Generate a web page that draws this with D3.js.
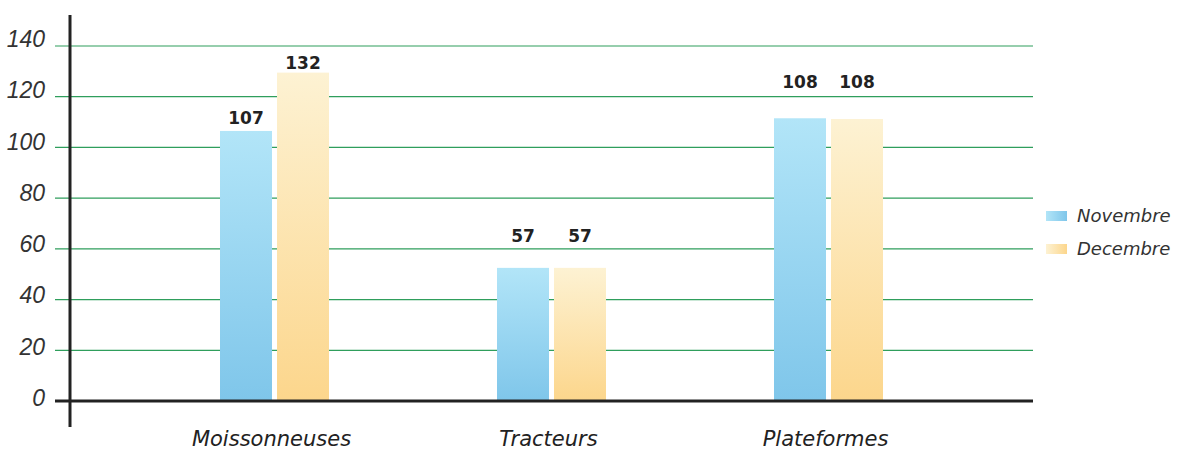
<!DOCTYPE html>
<html lang="fr">
  <head>
    <meta charset="utf-8">
    <title>Novembre / Decembre</title>
    <style>
      body { margin: 0; background: #fff; }
      svg text { font-family: "DejaVu Sans", "Lato", sans-serif; }
      .ytick { font-family: "Liberation Sans", Arial, sans-serif; font-style: italic; font-size: 23px; fill: #333; }
      .cat { font-style: italic; font-size: 21px; fill: #222; }
      .val { font-weight: bold; font-size: 17px; fill: #222; }
      .leg { font-style: italic; font-size: 18px; fill: #333; }
    </style>
    <script src="https://cdn.jsdelivr.net/npm/d3@7"></script>
  </head>
  <body>
    <svg id="chart" width="1177" height="450"></svg>
    <script>
      // data
      var categories = ["Moissonneuses", "Tracteurs", "Plateformes"];
      var series = ["Novembre", "Decembre"];
      var novembre = [106.5, 52.5, 111.5];
      var decembre = [129.5, 52.5, 111.2];
      // the printed labels do not quite match the bar heights
      var novLabels = ["107", "57", "108"];
      var decLabels = ["132", "57", "108"];
      // level (in axis units) where each printed label sits
      var novLabelAt = [109.2, 62.7, 123.4];
      var decLabelAt = [130.9, 62.7, 123.4];
      var yTicks = [0, 20, 40, 60, 80, 100, 120, 140];

      var svg = d3.select("#chart");
      var defs = svg.append("defs");

      function grad(id, top, bottom, horiz) {
        var g = defs.append("linearGradient").attr("id", id)
          .attr("x1", 0).attr("y1", 0)
          .attr("x2", horiz ? 1 : 0).attr("y2", horiz ? 0 : 1);
        g.append("stop").attr("offset", "0%").attr("stop-color", top);
        g.append("stop").attr("offset", "100%").attr("stop-color", bottom);
      }
      grad("gNov", "#b2e5f8", "#7fc6ea");
      grad("gDec", "#fdf2d3", "#fcd68c");
      grad("lNov", "#b2e5f8", "#7fc6ea", true);
      grad("lDec", "#fdf2d3", "#fcd68c", true);

      var y = d3.scaleLinear().domain([0, 140]).range([401, 46]);
      // tick labels drift a little from the grid in the original
      var yLab = d3.scaleLinear().domain([0, 140]).range([406, 47]);
      var x = d3.scaleBand().domain(categories).range([136, 967]);
      var barW = 52, gap = 5;

      // grid
      svg.append("g").selectAll("line").data(yTicks.filter(function(d) { return d > 0; }))
        .enter().append("line")
        .attr("x1", 55).attr("x2", 1033)
        .attr("y1", function(d) { return y(d); })
        .attr("y2", function(d) { return y(d); })
        .style("stroke", "#2f9e5c").style("stroke-width", 1.2);

      svg.append("g").selectAll("text").data(yTicks).enter().append("text")
        .attr("class", "ytick")
        .attr("x", 45).attr("y", function(d) { return yLab(d); })
        .attr("text-anchor", "end")
        .text(function(d) { return d; });

      var all = [
        { vals: novembre, labels: novLabels, at: novLabelAt, fill: "url(#gNov)", off: -barW - gap / 2 },
        { vals: decembre, labels: decLabels, at: decLabelAt, fill: "url(#gDec)", off: gap / 2 }
      ];

      all.forEach(function(s) {
        var cx = function(i) { return x(categories[i]) + x.bandwidth() / 2 + s.off; };
        svg.append("g").selectAll("rect").data(s.vals).enter().append("rect")
          .attr("x", function(d, i) { return cx(i); })
          .attr("y", function(d) { return y(d); })
          .attr("width", barW)
          .attr("height", function(d) { return y(0) - y(d); })
          .style("fill", s.fill);
        svg.append("g").selectAll("text").data(s.labels).enter().append("text")
          .attr("class", "val")
          .attr("x", function(d, i) { return cx(i) + barW / 2; })
          .attr("y", function(d, i) { return y(s.at[i]); })
          .attr("text-anchor", "middle")
          .text(function(d) { return d; });
      });

      // axes
      svg.append("line").attr("x1", 55).attr("x2", 1033).attr("y1", y(0)).attr("y2", y(0))
        .style("stroke", "#222").style("stroke-width", 3);
      svg.append("line").attr("x1", 70).attr("x2", 70).attr("y1", 15).attr("y2", 427)
        .style("stroke", "#222").style("stroke-width", 3);

      svg.append("g").selectAll("text").data(categories).enter().append("text")
        .attr("class", "cat")
        .attr("x", function(d) { return x(d) + x.bandwidth() / 2 - 3; })
        .attr("y", 446)
        .attr("text-anchor", "middle")
        .text(function(d) { return d; });

      // legend
      var leg = svg.append("g").selectAll("g").data(series).enter().append("g")
        .attr("transform", function(d, i) { return "translate(1046," + (216 + i * 33) + ")"; });
      leg.append("rect").attr("x", 0).attr("y", -5).attr("width", 21).attr("height", 10)
        .style("fill", function(d, i) { return i ? "url(#lDec)" : "url(#lNov)"; });
      leg.append("text").attr("class", "leg").attr("x", 31).attr("y", 6)
        .text(function(d) { return d; });
    </script>
  </body>
</html>
